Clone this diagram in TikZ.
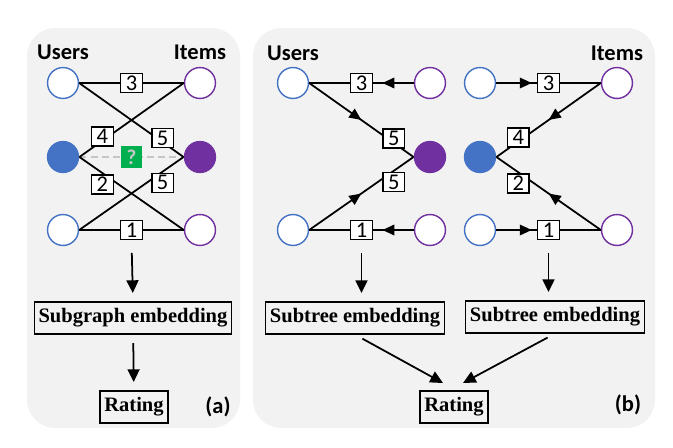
\documentclass[tikz,border=0pt]{standalone}
\usepackage{fontspec}
\setmainfont{Liberation Serif}
\setsansfont{Carlito}
\usepackage{xcolor}
\usepackage{tikz}
\usetikzlibrary{arrows.meta,decorations.markings}

\definecolor{usrblue}{HTML}{4472C4}
\definecolor{itmpurple}{HTML}{7030A0}
\definecolor{qgreen}{HTML}{00B050}
\definecolor{panelgray}{HTML}{F2F2F2}

\tikzset{
  usr/.style={circle,draw=usrblue,line width=1pt,fill=white,minimum size=22pt,inner sep=0pt},
  itm/.style={usr,draw=itmpurple},
  usrdot/.style={circle,fill=usrblue,minimum size=23pt,inner sep=0pt},
  itmdot/.style={usrdot,fill=itmpurple},
  lnk/.style={line width=1.25pt},
  num/.style={draw,line width=1.1pt,fill=white,font=\sffamily\fontsize{16}{16}\selectfont,
    inner sep=0pt,minimum width=15.5pt,minimum height=13.5pt},
  up/.style={yshift=3pt},
  down/.style={yshift=-8pt},
  emb/.style={draw,line width=1.1pt,font=\bfseries\fontsize{14.6}{16}\selectfont,
    inner xsep=3pt,minimum height=22.5pt},
  hdr/.style={font=\sffamily\bfseries\fontsize{16}{18}\selectfont},
  flow/.style={-{Triangle[length=9pt,width=8.5pt]},line width=1.25pt,shorten <=6pt,shorten >=6pt},
  midarr/.style={postaction={decorate,decoration={markings,
    mark=at position #1 with {\arrow{Triangle[length=8.5pt,width=7.5pt]}}}}}
}

\begin{document}
\begin{tikzpicture}[x=0.025cm,y=-0.025cm]
  \useasboundingbox (0,0) rectangle (673,448);
  % panels
  \fill[panelgray,rounded corners=20pt] (27,28) rectangle (240,428);
  \fill[panelgray,rounded corners=20pt] (253,28) rectangle (655,428);

  % (a) subgraph
  \node[hdr] (ausers) at (63,52) {Users};
  \node[hdr] (aitems) at (200,52) {Items};
  \node[usr] (au1) at (63,83) {};
  \node[itm] (ai1) at (200,83) {};
  \node[usrdot] (au0) at (63,157) {};
  \node[itmdot] (ai0) at (200,157) {};
  \node[usr] (au2) at (63,230) {};
  \node[itm] (ai2) at (200,230) {};
  \draw[gray!45,line width=1.2pt,dash pattern=on 5pt off 3pt] (au0) --
    node[fill=qgreen,minimum size=15pt,inner sep=0pt,font=\sffamily\bfseries\fontsize{15}{15}\selectfont] (aq) {?} (ai0);
  \draw[lnk] (au1.east) -- node[num] {3} (ai1.west);
  \draw[lnk] (au1.east) -- node[num,pos=.8,up] {5} (ai0.west);
  \draw[lnk] (ai1.west) -- node[num,pos=.78,up] {4} (au0.east);
  \draw[lnk] (au0.east) -- node[num,pos=.22,down] {2} (ai2.west);
  \draw[lnk] (ai0.west) -- node[num,pos=.2,down] {5} (au2.east);
  \draw[lnk] (au2.east) -- node[num] (a1) {1} (ai2.west);

  \node[emb] (asub) at (133,318) {Subgraph embedding};
  \node[emb] (arate) at (134,407) {Rating};
  \node[hdr] (atag) at (218,407) {(a)};
  \draw[flow,shorten <=9pt] (a1.south) -- (asub.north);
  \draw[flow] (asub) -- (arate);

  % (b) subtrees
  \node[hdr] (busers) at (293,53) {Users};
  \node[hdr] (bitems) at (617,53) {Items};
  % left tree, rooted at the item
  \node[usr] (bu1) at (293,83) {};
  \node[itm] (bi1) at (430,83) {};
  \node[itmdot] (bi0) at (430,157) {};
  \node[usr] (bu2) at (293,230) {};
  \node[itm] (bi2) at (430,230) {};
  \draw[lnk,midarr=.3] (bi1.west) -- node[num] {3} (bu1.east);
  \draw[lnk,midarr=.5] (bu1.east) -- node[num,pos=.81,up] {5} (bi0.west);
  \draw[lnk,midarr=.5] (bu2.east) -- node[num,pos=.81,down] {5} (bi0.west);
  \draw[lnk,midarr=.3] (bi2.west) -- node[num] (b1) {1} (bu2.east);
  % right tree, rooted at the user
  \node[usr] (cu1) at (480,83) {};
  \node[itm] (ci1) at (617,83) {};
  \node[usrdot] (cu0) at (480,157) {};
  \node[usr] (cu2) at (480,230) {};
  \node[itm] (ci2) at (617,230) {};
  \draw[lnk,midarr=.34] (cu1.east) -- node[num] {3} (ci1.west);
  \draw[lnk,midarr=.5] (ci1.west) -- node[num,pos=.79,up] {4} (cu0.east);
  \draw[lnk,midarr=.5] (ci2.west) -- node[num,pos=.79,down] {2} (cu0.east);
  \draw[lnk,midarr=.34] (cu2.east) -- node[num] (c1) {1} (ci2.west);

  \node[emb] (bsubl) at (355,318) {Subtree embedding};
  \node[emb] (bsubr) at (555,317) {Subtree embedding};
  \node[emb] (brate) at (454,407) {Rating};
  \node[hdr] (btag) at (628,405) {(b)};
  \coordinate (lhit) at (443,383);
  \coordinate (rhit) at (463,383);
  \draw[flow,shorten <=9pt] (b1.south) -- (b1.south |- bsubl.north);
  \draw[flow,shorten <=9pt] (c1.south) -- (c1.south |- bsubr.north);
  \draw[flow,shorten >=0pt] (bsubl.south) -- (lhit);
  \draw[flow,shorten >=0pt] (bsubr.south) -- (rhit);
\end{tikzpicture}
\end{document}
